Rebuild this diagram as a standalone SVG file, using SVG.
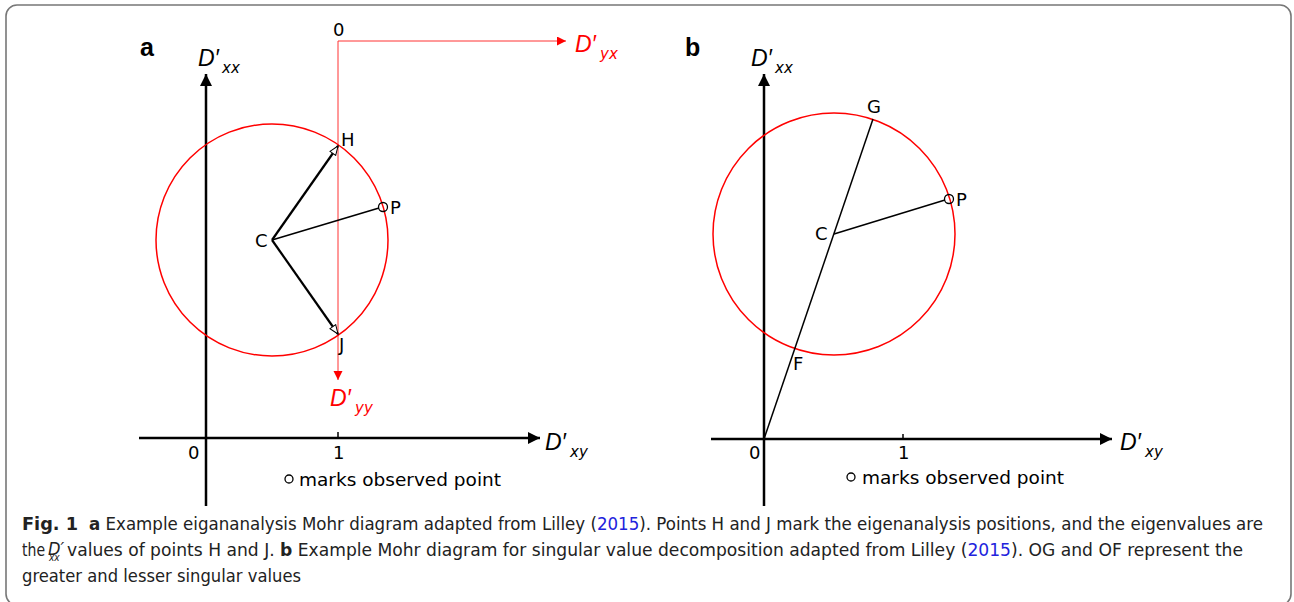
<svg xmlns="http://www.w3.org/2000/svg" width="1294" height="602" viewBox="0 0 1294 602">
<defs>
<marker id="ax" markerUnits="userSpaceOnUse" markerWidth="14" markerHeight="12" refX="12" refY="6" orient="auto"><path d="M0,0 L12,6 L0,12 Z" fill="#000"/></marker>
<marker id="rax" markerUnits="userSpaceOnUse" markerWidth="10" markerHeight="10" refX="9" refY="4.5" orient="auto"><path d="M0,0 L9,4.5 L0,9 Z" fill="#f00"/></marker>
<marker id="open" markerUnits="userSpaceOnUse" markerWidth="12" markerHeight="10" refX="10" refY="4.5" orient="auto"><path d="M1,1 L10,4.5 L1,8 Z" fill="#fff" stroke="#000" stroke-width="1"/></marker>
</defs>
<style>
.lbl{font-family:"DejaVu Sans",sans-serif;font-size:18px;fill:#000}
.note{font-family:"DejaVu Sans",sans-serif;font-size:18.5px;fill:#000}
.dp{font-family:"Liberation Sans",sans-serif;font-style:italic;font-size:23px}
.sub{font-family:"DejaVu Sans",sans-serif;font-style:oblique;font-size:15px}
.pan{font-family:"Liberation Sans",sans-serif;font-weight:bold;font-size:25px}
.cap{font-family:"Liberation Sans Narrow","DejaVu Sans Condensed",sans-serif;font-size:18px;fill:#222}
.axis{stroke:#000;stroke-width:2.5;fill:none}
.red{stroke:#f33;stroke-width:1;fill:none}
.circ{stroke:#f00;stroke-width:1.5;fill:none}
.blk{stroke:#000;stroke-width:1.5;fill:none}
.blk2{stroke:#000;stroke-width:2.2;fill:none}
.obs{stroke:#000;stroke-width:1.3;fill:none}
</style>
<rect x="6" y="5" width="1285" height="600" rx="11" fill="#fff" stroke="#777" stroke-width="1.6"/>

<g id="panel-a">
<text class="pan" x="140" y="56">a</text>
<g id="a-axes">
<line class="axis" x1="206" y1="506" x2="206" y2="74" marker-end="url(#ax)"/>
<line class="axis" x1="139" y1="438" x2="540" y2="438" marker-end="url(#ax)"/>
<line class="blk" x1="338" y1="432" x2="338" y2="438"/>
<text class="lbl" x="188" y="459">0</text>
<text class="lbl" x="333" y="459">1</text>
<text x="198" y="66"><tspan class="dp">D′</tspan><tspan class="sub" x="222" y="73">xx</tspan></text>
<text x="545" y="450"><tspan class="dp">D′</tspan><tspan class="sub" x="570" y="457">xy</tspan></text>
</g>
<g id="a-red-axes" fill="#f00">
<line class="red" x1="338" y1="41" x2="566" y2="41" marker-end="url(#rax)"/>
<line class="red" x1="338" y1="41" x2="338" y2="380" marker-end="url(#rax)"/>
<text class="lbl" x="333" y="36">0</text>
<text x="575" y="52" fill="#f00"><tspan class="dp">D′</tspan><tspan class="sub" x="600" y="59">yx</tspan></text>
<text x="330" y="406" fill="#f00"><tspan class="dp">D′</tspan><tspan class="sub" x="355" y="413">yy</tspan></text>
</g>
<g id="a-circle"><circle class="circ" cx="272" cy="240" r="116"/></g>
<g id="a-connectors">
<line class="blk2" x1="272" y1="240" x2="338" y2="146" marker-end="url(#open)"/>
<line class="blk2" x1="272" y1="240" x2="338" y2="334" marker-end="url(#open)"/>
<line class="blk" x1="272" y1="240" x2="379" y2="208"/>
</g>
<g id="a-C"><text class="lbl" x="255" y="247">C</text></g>
<g id="a-H"><text class="lbl" x="341" y="146">H</text></g>
<g id="a-J"><text class="lbl" x="339" y="351">J</text></g>
<g id="a-P"><circle class="obs" cx="383" cy="207" r="4.5"/><text class="lbl" x="390" y="214">P</text></g>
<g id="a-note"><circle class="obs" cx="289" cy="479" r="4"/><text class="note" x="299" y="486">marks observed point</text></g>
</g>

<g id="panel-b">
<text class="pan" x="685" y="56">b</text>
<g id="b-axes">
<line class="axis" x1="764" y1="506" x2="764" y2="74" marker-end="url(#ax)"/>
<line class="axis" x1="711" y1="439" x2="1112" y2="439" marker-end="url(#ax)"/>
<line class="blk" x1="903" y1="434" x2="903" y2="439"/>
<text class="lbl" x="749" y="459">0</text>
<text class="lbl" x="898" y="459">1</text>
<text x="751" y="66"><tspan class="dp">D′</tspan><tspan class="sub" x="775" y="73">xx</tspan></text>
<text x="1120" y="450"><tspan class="dp">D′</tspan><tspan class="sub" x="1145" y="457">xy</tspan></text>
</g>
<g id="b-circle"><circle class="circ" cx="834" cy="234" r="121"/></g>
<g id="b-connectors">
<line class="blk" x1="764" y1="439" x2="873" y2="119"/>
<line class="blk" x1="834" y1="234" x2="945" y2="200"/>
</g>
<g id="b-C"><text class="lbl" x="815" y="240">C</text></g>
<g id="b-G"><text class="lbl" x="867" y="113">G</text></g>
<g id="b-F"><text class="lbl" x="793" y="370">F</text></g>
<g id="b-P"><circle class="obs" cx="949" cy="199" r="4.5"/><text class="lbl" x="956" y="206">P</text></g>
<g id="b-note"><circle class="obs" cx="851" cy="477" r="4"/><text class="note" x="862" y="484">marks observed point</text></g>
</g>

<g id="caption">
<text class="cap" x="22" y="530" font-weight="bold" textLength="56" lengthAdjust="spacingAndGlyphs">Fig. 1</text>
<text class="cap" x="89" y="530" textLength="1174" lengthAdjust="spacingAndGlyphs"><tspan font-weight="bold">a</tspan> Example eigananalysis Mohr diagram adapted from Lilley (<tspan fill="#22d">2015</tspan>). Points H and J mark the eigenanalysis positions, and the eigenvalues are</text>
<text class="cap" x="22" y="556" textLength="23" lengthAdjust="spacingAndGlyphs">the</text>
<text class="cap" x="48" y="555" font-style="italic" font-size="15">D′<tspan x="49" y="561" font-size="10">xx</tspan></text>
<text class="cap" x="67" y="556" textLength="1176" lengthAdjust="spacingAndGlyphs">values of points H and J. <tspan font-weight="bold">b</tspan> Example Mohr diagram for singular value decomposition adapted from Lilley (<tspan fill="#22d">2015</tspan>). OG and OF represent the</text>
<text class="cap" x="22" y="582" textLength="279" lengthAdjust="spacingAndGlyphs">greater and lesser singular values</text>
</g>
</svg>
